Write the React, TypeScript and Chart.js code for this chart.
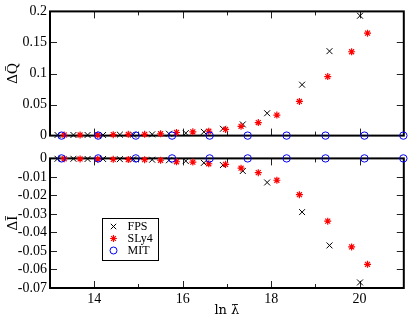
import React, { useEffect, useRef } from 'react';
import { Chart, registerables } from 'chart.js';

Chart.register(...registerables);

// ---------- data ----------
const xMin = 13;
const xMax = 21;
const xLabelTicks = [14, 16, 18, 20];
const xLabelText = ['14', '16', '18', '20'];
const xInnerTicks = [14, 15, 16, 17, 18, 19, 20];

const topYTicks = [0, 0.05, 0.1, 0.15, 0.2];
const topYLabels = ['0', '0.05', '0.1', '0.15', '0.2'];
const topYInner = [0.05, 0.1, 0.15];

const botYTicks = [0, -0.01, -0.02, -0.03, -0.04, -0.05, -0.06, -0.07];
const botYLabels = ['0', '-0.01', '-0.02', '-0.03', '-0.04', '-0.05', '-0.06', '-0.07'];
const botYInner = [-0.01, -0.02, -0.03, -0.04, -0.05, -0.06];

const seriesNames = ['FPS', 'SLy4', 'MIT'];

const fpsX = [13.17, 13.53, 13.85, 14.2, 14.58, 14.88, 15.31, 15.69, 16.07, 16.48, 16.91, 17.36, 17.91, 18.7, 19.32, 20.01];
const fpsDQ = [0.001, 0.001, 0.001, 0.001, 0.0015, 0.0015, 0.002, 0.003, 0.004, 0.006, 0.011, 0.018, 0.036, 0.082, 0.136, 0.193];
const fpsDI = [-0.0002, -0.0002, -0.0003, -0.0003, -0.0004, -0.0005, -0.0007, -0.001, -0.0014, -0.0024, -0.0036, -0.0068, -0.013, -0.029, -0.047, -0.067];

const slyX = [13.32, 13.68, 14.08, 14.43, 14.77, 15.14, 15.5, 15.86, 16.23, 16.59, 16.97, 17.32, 17.71, 18.13, 18.64, 19.28, 19.82, 20.18];
const slyDQ = [0.001, 0.001, 0.001, 0.0015, 0.002, 0.002, 0.003, 0.005, 0.006, 0.007, 0.01, 0.015, 0.021, 0.033, 0.055, 0.095, 0.135, 0.165];
const slyDI = [-0.0002, -0.0003, -0.0004, -0.0005, -0.0006, -0.0007, -0.001, -0.0018, -0.002, -0.0029, -0.0032, -0.0053, -0.0077, -0.0118, -0.0196, -0.0339, -0.0478, -0.0572];

const mitX = [13.26, 14.09, 14.94, 15.76, 16.61, 17.47, 18.35, 19.23, 20.11, 20.99];
const mitDQ = [0, 0, 0, 0, 0, 0, 0, 0, 0, 0];
const mitDI = [0, 0, 0, 0, 0, 0, 0, 0, 0, 0];

// ---------- styling ----------
const FONT_FAMILY = "'Liberation Serif', 'Times New Roman', serif";
const TITLE_FAMILY = "'DejaVu Serif', 'Liberation Serif', serif";
const W = 409;
const H1 = 147;
const H2 = 171;

const pts = (xs: number[], ys: number[]) => xs.map((x, i) => ({ x, y: ys[i] }));

function makeDatasets(fy: number[], sy: number[], my: number[]) {
  return [
    {
      label: seriesNames[0],
      data: pts(fpsX, fy),
      pointStyle: 'crossRot',
      pointRadius: 4.2,
      borderColor: '#000000',
      backgroundColor: '#000000',
      pointBorderWidth: 1,
      showLine: false,
      clip: false,
      order: 2,
    },
    {
      label: seriesNames[1],
      data: pts(slyX, sy),
      pointStyle: 'star',
      pointRadius: 3.5,
      borderColor: '#ff0000',
      backgroundColor: '#ff0000',
      pointBorderWidth: 1.2,
      showLine: false,
      clip: false,
      order: 1,
    },
    {
      label: seriesNames[2],
      data: pts(mitX, my),
      pointStyle: 'circle',
      pointRadius: 3.7,
      borderColor: '#0000ff',
      backgroundColor: 'rgba(0,0,0,0)',
      pointBorderWidth: 1,
      showLine: false,
      clip: false,
      order: 0,
    },
  ];
}

function makeFrame(id: string, yInner: number[]) {
  return {
    id,
    beforeDatasetsDraw(chart: any) {
      const { ctx, chartArea: a, scales } = chart;
      ctx.save();
      ctx.strokeStyle = '#222';
      ctx.lineWidth = 1;
      ctx.beginPath();
      for (const v of xInnerTicks) {
        const px = Math.round(scales.x.getPixelForValue(v)) + 0.5;
        const len = xLabelTicks.includes(v) ? 7 : 4;
        ctx.moveTo(px, a.top);
        ctx.lineTo(px, a.top + len);
        ctx.moveTo(px, a.bottom);
        ctx.lineTo(px, a.bottom - len);
      }
      for (const v of yInner) {
        const py = Math.round(scales.y.getPixelForValue(v)) + 0.5;
        ctx.moveTo(a.left, py);
        ctx.lineTo(a.left + 7, py);
        ctx.moveTo(a.right, py);
        ctx.lineTo(a.right - 7, py);
      }
      ctx.stroke();
      ctx.strokeStyle = '#000';
      ctx.lineWidth = 2;
      ctx.strokeRect(a.left, a.top, a.right - a.left, a.bottom - a.top);
      ctx.restore();
    },
  };
}

const legendPlugin = {
  id: 'customLegend',
  afterDraw(chart: any) {
    const { ctx } = chart;
    const bx = 102.5;
    const by = 71.5;
    const bw = 56;
    const bh = 42;
    ctx.save();
    ctx.fillStyle = '#fff';
    ctx.fillRect(bx, by, bw, bh);
    ctx.strokeStyle = '#000';
    ctx.lineWidth = 1;
    ctx.strokeRect(bx, by, bw, bh);
    const mx = 113.5;
    const rows = [79.5, 91.5, 103.5];
    // FPS cross
    ctx.strokeStyle = '#000';
    ctx.lineWidth = 1;
    ctx.beginPath();
    ctx.moveTo(mx - 2.7, rows[0] - 2.7);
    ctx.lineTo(mx + 2.7, rows[0] + 2.7);
    ctx.moveTo(mx - 2.7, rows[0] + 2.7);
    ctx.lineTo(mx + 2.7, rows[0] - 2.7);
    ctx.stroke();
    // SLy4 star
    ctx.strokeStyle = '#ff0000';
    ctx.lineWidth = 1.2;
    ctx.beginPath();
    const r = 3.4;
    const d = r * Math.SQRT1_2;
    ctx.moveTo(mx - r, rows[1]);
    ctx.lineTo(mx + r, rows[1]);
    ctx.moveTo(mx, rows[1] - r);
    ctx.lineTo(mx, rows[1] + r);
    ctx.moveTo(mx - d, rows[1] - d);
    ctx.lineTo(mx + d, rows[1] + d);
    ctx.moveTo(mx - d, rows[1] + d);
    ctx.lineTo(mx + d, rows[1] - d);
    ctx.stroke();
    // MIT circle
    ctx.strokeStyle = '#0000ff';
    ctx.lineWidth = 1;
    ctx.beginPath();
    ctx.arc(mx, rows[2], 3.5, 0, Math.PI * 2);
    ctx.stroke();
    ctx.fillStyle = '#000';
    ctx.font = `12px ${FONT_FAMILY}`;
    ctx.textBaseline = 'middle';
    ctx.textAlign = 'left';
    seriesNames.forEach((n, i) => ctx.fillText(n, 127.5, rows[i]));
    ctx.restore();
  },
};

const tickFont = { family: FONT_FAMILY, size: 14 };

export default function App() {
  const topRef = useRef<HTMLCanvasElement | null>(null);
  const botRef = useRef<HTMLCanvasElement | null>(null);

  useEffect(() => {
    Chart.defaults.font.family = FONT_FAMILY;
    Chart.defaults.color = '#000';

    const top = new Chart(topRef.current as HTMLCanvasElement, {
      type: 'scatter',
      data: { datasets: makeDatasets(fpsDQ, slyDQ, mitDQ) as any },
      options: {
        responsive: false,
        animation: false,
        events: [],
        layout: { padding: { top: 5, right: 4, bottom: 10, left: 0 } },
        plugins: { legend: { display: false }, tooltip: { enabled: false } },
        scales: {
          x: { type: 'linear', min: xMin, max: xMax, display: false },
          y: {
            type: 'linear',
            min: 0,
            max: 0.2,
            afterFit: (s: any) => {
              s.width = 50;
            },
            afterBuildTicks: (s: any) => {
              s.ticks = topYTicks.map((v) => ({ value: v }));
            },
            ticks: {
              font: tickFont,
              color: '#000',
              padding: 3,
              autoSkip: false,
              callback: (_v: any, i: number) => topYLabels[i],
            },
            grid: { display: false, drawTicks: false },
            border: { display: false },
            title: {
              display: true,
              text: 'ΔQ\u0304',
              font: { family: FONT_FAMILY, size: 15 },
              color: '#000',
              padding: { top: 4, bottom: 0 },
            },
          },
        },
      },
      plugins: [makeFrame('frameTop', topYInner)],
    } as any);

    const bot = new Chart(botRef.current as HTMLCanvasElement, {
      type: 'scatter',
      data: { datasets: makeDatasets(fpsDI, slyDI, mitDI) as any },
      options: {
        responsive: false,
        animation: false,
        events: [],
        layout: { padding: { top: 10, right: 4, bottom: 0, left: 0 } },
        plugins: { legend: { display: false }, tooltip: { enabled: false } },
        scales: {
          x: {
            type: 'linear',
            min: xMin,
            max: xMax,
            afterFit: (s: any) => {
              s.height = 30;
            },
            afterBuildTicks: (s: any) => {
              s.ticks = xLabelTicks.map((v) => ({ value: v }));
            },
            ticks: {
              font: tickFont,
              color: '#000',
              padding: 3,
              autoSkip: false,
              maxRotation: 0,
              callback: (_v: any, i: number) => xLabelText[i],
            },
            grid: { display: false, drawTicks: false },
            border: { display: false },
            title: {
              display: true,
              text: 'ln λ\u0304',
              font: { family: TITLE_FAMILY, size: 13 },
              color: '#000',
              padding: { top: 0, bottom: 0 },
            },
          },
          y: {
            type: 'linear',
            min: -0.07,
            max: 0,
            afterFit: (s: any) => {
              s.width = 50;
            },
            afterBuildTicks: (s: any) => {
              s.ticks = botYTicks.map((v) => ({ value: v }));
            },
            ticks: {
              font: tickFont,
              color: '#000',
              padding: 3,
              autoSkip: false,
              callback: (_v: any, i: number) => botYLabels[i],
            },
            grid: { display: false, drawTicks: false },
            border: { display: false },
            title: {
              display: true,
              text: 'ΔĪ',
              font: { family: FONT_FAMILY, size: 15 },
              color: '#000',
              padding: { top: 4, bottom: 0 },
            },
          },
        },
      },
      plugins: [makeFrame('frameBot', botYInner), legendPlugin],
    } as any);

    return () => {
      top.destroy();
      bot.destroy();
    };
  }, []);

  return (
    <div style={{ position: 'fixed', left: 0, top: 0, width: W, height: H1 + H2, background: '#fff' }}>
      <canvas
        ref={topRef}
        width={W}
        height={H1}
        style={{ position: 'absolute', left: 0, top: 0, width: W, height: H1 }}
      />
      <canvas
        ref={botRef}
        width={W}
        height={H2}
        style={{ position: 'absolute', left: 0, top: H1, width: W, height: H2 }}
      />
    </div>
  );
}
